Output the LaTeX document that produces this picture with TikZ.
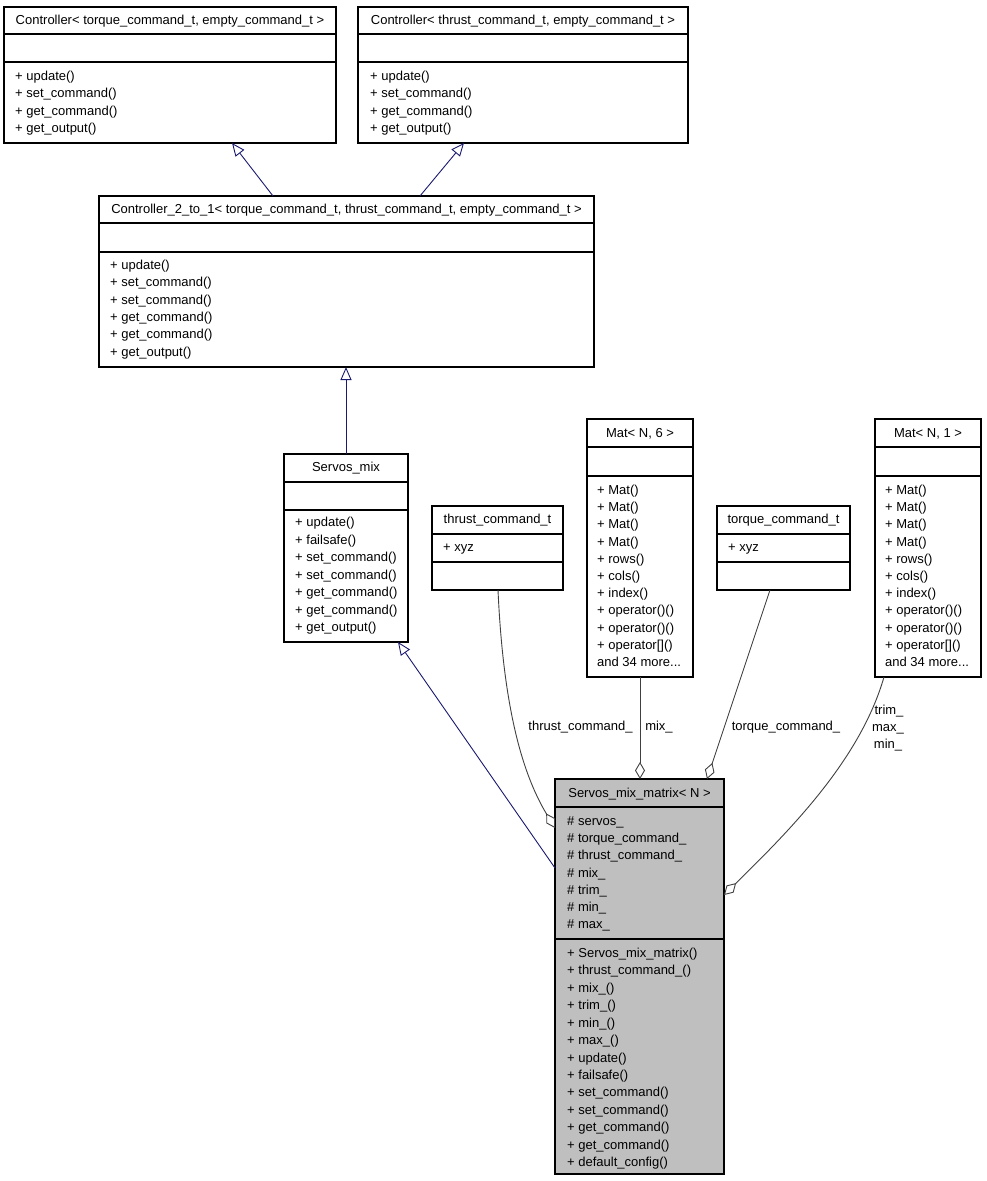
\documentclass[tikz,border=0pt]{standalone}
\usepackage{fontspec}
\setmainfont{Liberation Sans}
\usetikzlibrary{arrows.meta}
\definecolor{inhcol}{HTML}{191970}
\definecolor{aggcol}{HTML}{404040}
\definecolor{smmfill}{HTML}{BFBFBF}
\newcommand\andmoretxt{and 34 more...}
\begin{document}
\begin{tikzpicture}[x=1pt,y=-1pt,
  box/.style={draw=black, line width=1.1pt, anchor=north west, inner sep=0pt, outer sep=0pt},
  sepline/.style={draw=black, line width=1.1pt},
  txt/.style={anchor=base west, inner sep=0pt, font=\fontsize{13}{15}\selectfont},
  ttl/.style={anchor=base, inner sep=0pt, font=\fontsize{13}{15}\selectfont},
  lbl/.style={anchor=base, inner sep=0pt, font=\fontsize{13}{15}\selectfont},
  inh/.style={draw=inhcol, line width=0.9pt, -{Triangle[open, length=13pt, width=11pt]}},
  agg/.style={draw=aggcol, line width=0.9pt, {Diamond[open, length=17pt, width=10pt]}-},
]
\useasboundingbox (0,0) rectangle (987,1181);

% ---------- boxes ----------
\node[box, minimum width=332pt, minimum height=136pt] (A) at (4,7) {};
\node[box, minimum width=330pt, minimum height=136pt] (B) at (358,7) {};
\node[box, minimum width=495pt, minimum height=171pt] (C) at (99,196) {};
\node[box, minimum width=124pt, minimum height=188pt] (D) at (284,454) {};
\node[box, minimum width=131pt, minimum height=84pt] (E) at (432,506) {};
\node[box, minimum width=106pt, minimum height=258pt] (F) at (587,419) {};
\node[box, minimum width=133pt, minimum height=84pt] (G) at (717,506) {};
\node[box, minimum width=106pt, minimum height=258pt] (H) at (875,419) {};
\node[box, fill=smmfill, minimum width=169pt, minimum height=395pt] (I) at (555,779) {};

% ---------- separators ----------
\foreach \b/\s/\t in {A/34/62, B/34/62, C/223/252, D/482/510, E/534/562, F/447/476, G/534/562, H/447/476, I/807/939}{
  \draw[sepline] (\b.west |- 0,\s) -- (\b.east |- 0,\s);
  \draw[sepline] (\b.west |- 0,\t) -- (\b.east |- 0,\t);
}

% ---------- titles ----------
\node[ttl] (At) at (170,24.5) {Controller< torque\_command\_t, empty\_command\_t >};
\node[ttl] (Bt) at (523,24.5) {Controller< thrust\_command\_t, empty\_command\_t >};
\node[ttl] (Ct) at (346.5,213.5) {Controller\_2\_to\_1< torque\_command\_t, thrust\_command\_t, empty\_command\_t >};
\node[ttl] (Dt) at (346,471.5) {Servos\_mix};
\node[ttl] (Et) at (497.5,523.5) {thrust\_command\_t};
\node[ttl] (Ft) at (640,437.5) {Mat< N, 6 >};
\node[ttl] (Gt) at (783.5,523.5) {torque\_command\_t};
\node[ttl] (Ht) at (928,437.5) {Mat< N, 1 >};
\node[ttl] (It) at (639.5,797.5) {Servos\_mix\_matrix< N >};

% ---------- members ----------
\foreach \t [count=\i] in {+ update(), + set\_command(), + get\_command(), + get\_output()}
  \node[txt] (A-\i) at (15, 80.5+17.3*\i-17.3) {\t};
\foreach \t [count=\i] in {+ update(), + set\_command(), + get\_command(), + get\_output()}
  \node[txt] (B-\i) at (370, 80.5+17.3*\i-17.3) {\t};
\foreach \t [count=\i] in {+ update(), + set\_command(), + set\_command(), + get\_command(), + get\_command(), + get\_output()}
  \node[txt] (C-\i) at (110, 269.5+17.3*\i-17.3) {\t};
\foreach \t [count=\i] in {+ update(), + failsafe(), + set\_command(), + set\_command(), + get\_command(), + get\_command(), + get\_output()}
  \node[txt] (D-\i) at (295, 526.5+17.5*\i-17.5) {\t};
\node[txt] (E-1) at (443,551.5) {+ xyz};
\node[txt] (G-1) at (728,551.5) {+ xyz};
\foreach \t [count=\i] in {+ Mat(), + Mat(), + Mat(), + Mat(), + rows(), + cols(), + index(), + operator()(), + operator()(), + operator[](), \andmoretxt}
  \node[txt] (F-\i) at (597, 494.5+17.2*\i-17.2) {\t};
\foreach \t [count=\i] in {+ Mat(), + Mat(), + Mat(), + Mat(), + rows(), + cols(), + index(), + operator()(), + operator()(), + operator[](), \andmoretxt}
  \node[txt] (H-\i) at (885, 494.5+17.2*\i-17.2) {\t};
\foreach \t [count=\i] in {\# servos\_, \# torque\_command\_, \# thrust\_command\_, \# mix\_, \# trim\_, \# min\_, \# max\_}
  \node[txt] (Ia-\i) at (567, 825.5+17.17*\i-17.17) {\t};
\foreach \t [count=\i] in {+ Servos\_mix\_matrix(), + thrust\_command\_(), + mix\_(), + trim\_(), + min\_(), + max\_(), + update(), + failsafe(), + set\_command(), + set\_command(), + get\_command(), + get\_command(), + default\_config()}
  \node[txt] (Im-\i) at (567, 957.5+17.42*\i-17.42) {\t};

% ---------- inheritance ----------
\draw[inh] (C.north -| 273,0) -- (A.south -| 232,0);
\draw[inh] (C.north -| 420,0) -- (B.south -| 464,0);
\draw[inh] (D.north) -- (C.south -| D.north);
\draw[inh] (I.west |- 0,868) -- (D.south -| 398,0);

% ---------- aggregation ----------
\draw[agg] (I.west |- 0,828) .. controls (520,770) and (503,700) .. (E.south -| 498,0);
\draw[agg] (I.north -| 640,0) -- (F.south -| 640,0);
\draw[agg] (I.north -| 707,0) -- (G.south -| 770,0);
\draw[agg] (I.east |- 0,895) .. controls (790,830) and (860,760) .. (H.south -| 884,0);

% ---------- labels ----------
\node[lbl] (L1) at (580.5,730.5) {thrust\_command\_};
\node[lbl] (L2) at (659,730.5) {mix\_};
\node[lbl] (L3) at (786,730.5) {torque\_command\_};
\node[lbl] (L4a) at (889,714.5) {trim\_};
\node[lbl] (L4b) at (888,731.5) {max\_};
\node[lbl] (L4c) at (888,748.5) {min\_};
\end{tikzpicture}
\end{document}
